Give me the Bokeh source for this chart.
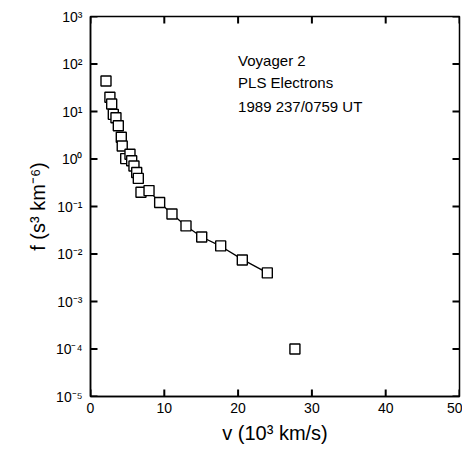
from bokeh.plotting import figure
from bokeh.models import FixedTicker, Label, Range1d
from bokeh.embed import file_html
from bokeh.resources import INLINE

# Data
v_data = [2.1, 2.63, 2.87, 3.09, 3.45, 3.77, 4.17, 4.3, 4.77, 5.35, 5.58, 5.89, 6.26, 6.48,
          6.84, 7.93, 9.37, 11.04, 12.94, 15.07, 17.64, 20.57, 23.96, 27.7]
f_data = [44, 20, 14.4, 8.7, 7.4, 5.0, 2.86, 1.88, 1.02, 1.26, 0.92, 0.71, 0.52, 0.39,
          0.20, 0.216, 0.121, 0.0695, 0.039, 0.0228, 0.0148, 0.0075, 0.004, 1.0e-4]
fit_v = [7.93, 9.37, 11.04, 12.94, 15.07, 17.64, 20.57, 23.96]
fit_f = [0.216, 0.121, 0.0695, 0.039, 0.0228, 0.0146, 0.0077, 0.004]

x_ticks = [0, 10, 20, 30, 40, 50]
y_ticks = [1e-5, 1e-4, 1e-3, 1e-2, 1e-1, 1e0, 1e1, 1e2, 1e3]
y_tick_labels = ["10⁻⁵", "10⁻⁴", "10⁻³", "10⁻²", "10⁻¹", "10⁰", "10¹", "10²", "10³"]
annotations = ["Voyager 2", "PLS Electrons", "1989 237/0759 UT"]

FONT = "Liberation Sans"
FW, FH = 369, 380
XMIN, XMAX, YMIN, YMAX = 0, 50, 1e-5, 1e3
TICK_PX = 7

p = figure(frame_width=FW, frame_height=FH, y_axis_type="log",
           x_range=Range1d(XMIN, XMAX), y_range=Range1d(YMIN, YMAX),
           output_backend="svg", toolbar_location=None,
           min_border_left=90, min_border_right=3, min_border_top=16, min_border_bottom=0,
           x_axis_label="v (10³ km/s)", y_axis_label="f (s³ km⁻⁶)")
p.grid.visible = False
p.outline_line_color = "black"
p.outline_line_width = 1.5

p.xaxis.ticker = FixedTicker(ticks=x_ticks)
p.yaxis.ticker = FixedTicker(ticks=y_ticks)
p.yaxis.major_label_overrides = {t: l for t, l in zip(y_ticks, y_tick_labels)}

for ax in [p.xaxis[0], p.yaxis[0]]:
    ax.minor_tick_in = 0
    ax.minor_tick_out = 0
    ax.major_tick_in = 0
    ax.major_tick_out = 0
    ax.axis_line_width = 1.5
    ax.major_label_text_font = FONT
    ax.major_label_text_font_size = "14px"
    ax.major_label_text_color = "black"
    ax.axis_label_text_font = FONT
    ax.axis_label_text_font_size = "20px"
    ax.axis_label_text_font_style = "normal"
    ax.axis_label_text_color = "black"

p.xaxis.major_label_standoff = 6
p.xaxis.axis_label_standoff = 6
p.yaxis.major_label_standoff = 8
p.yaxis.axis_label_standoff = 4

# inward ticks on all four sides, placed at the tick values
dx = TICK_PX * (XMAX - XMIN) / FW
fy = 10 ** (TICK_PX * 8 / FH)
tx0, ty0, tx1, ty1 = [], [], [], []
for t in x_ticks:
    tx0 += [t, t]; tx1 += [t, t]
    ty0 += [YMIN, YMAX]; ty1 += [YMIN * fy, YMAX / fy]
for t in y_ticks:
    tx0 += [XMIN, XMAX]; tx1 += [XMIN + dx, XMAX - dx]
    ty0 += [t, t]; ty1 += [t, t]
p.segment(tx0, ty0, tx1, ty1, line_color="black", line_width=2)

p.line(fit_v, fit_f, line_color="black", line_width=1.3)
p.scatter(v_data, f_data, marker="square", size=10, fill_color="white",
          line_color="black", line_width=1.4)

for txt, yv in zip(annotations, [120, 41, 13]):
    p.add_layout(Label(x=20, y=yv, text=txt, text_font=FONT, text_font_size="15px",
                       text_baseline="middle", text_color="black"))

open("out.html", "w").write(file_html(p, INLINE))
